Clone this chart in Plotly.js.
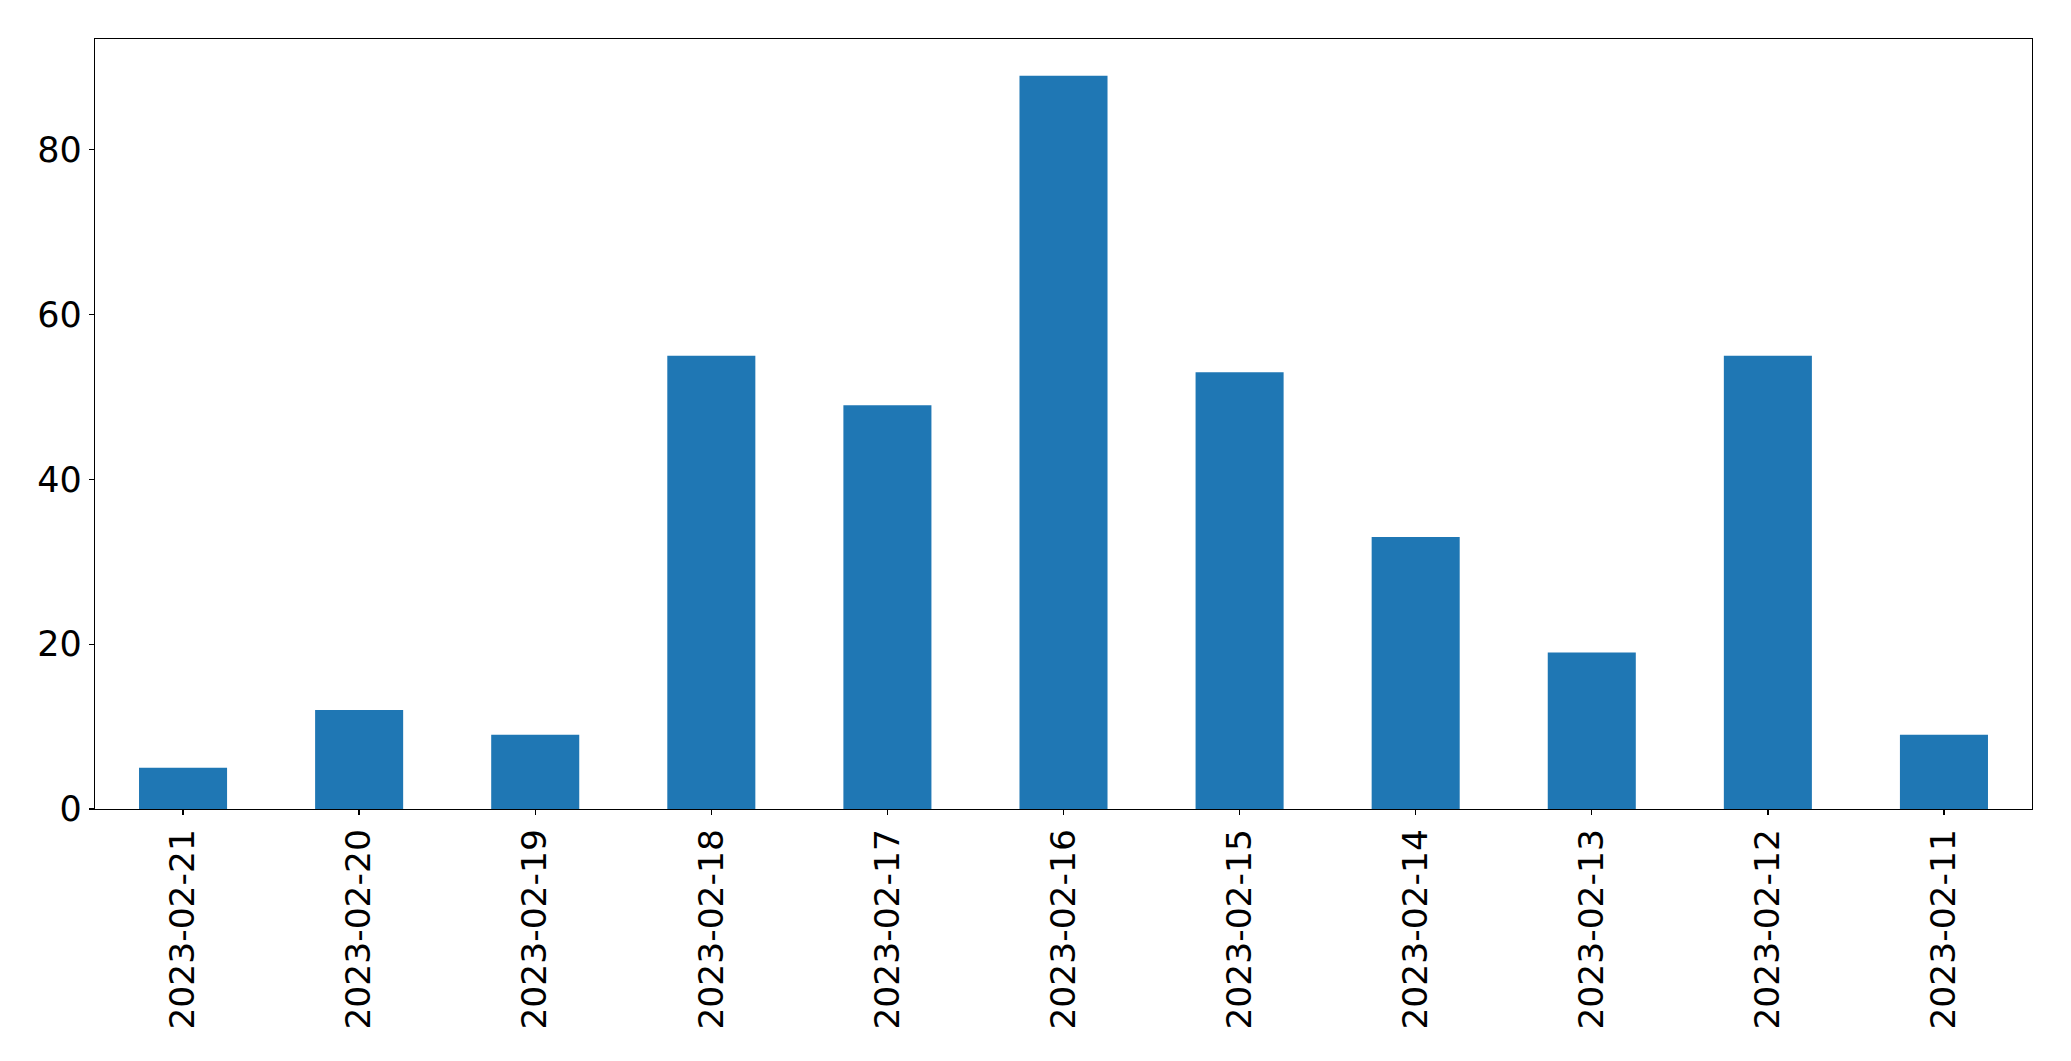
<!DOCTYPE html>
<html>
<head>
<meta charset="utf-8">
<script src="https://cdn.plot.ly/plotly-3.0.1.min.js"></script>
<style>html,body{margin:0;padding:0;background:#fff;}#chart{width:2071px;height:1061px;}</style>
</head>
<body>
<div id="chart"></div>
<script>
const categories = ["2023-02-21","2023-02-20","2023-02-19","2023-02-18","2023-02-17","2023-02-16","2023-02-15","2023-02-14","2023-02-13","2023-02-12","2023-02-11"];
const values = [5, 12, 9, 55, 49, 89, 53, 33, 19, 55, 9];
const yTicks = [0, 20, 40, 60, 80];

const trace = {
  type: 'bar',
  x: categories.map((c, i) => i),
  y: values,
  width: 0.5,
  marker: {color: '#1f77b4', line: {width: 0}},
  hoverinfo: 'x+y'
};

const layout = {
  width: 2071,
  height: 1061,
  margin: {l: 95, r: 39, t: 39, b: 252},
  paper_bgcolor: '#ffffff',
  plot_bgcolor: '#ffffff',
  showlegend: false,
  font: {family: 'DejaVu Sans', size: 34.5, color: '#000'},
  xaxis: {
    range: [-0.5, 10.5],
    tickmode: 'array',
    tickvals: categories.map((c, i) => i),
    ticktext: categories,
    tickangle: -90,
    showgrid: false,
    zeroline: false,
    showline: true,
    mirror: true,
    linecolor: '#000',
    linewidth: 1.3,
    ticks: 'outside',
    ticklen: 5,
    tickwidth: 1.3,
    tickcolor: '#000',
    tickfont: {family: 'DejaVu Sans', size: 34.5, color: '#000'}
  },
  yaxis: {
    range: [0, 93.45],
    tickmode: 'array',
    tickvals: yTicks,
    ticktext: yTicks.map(String),
    showgrid: false,
    zeroline: false,
    showline: true,
    mirror: true,
    linecolor: '#000',
    linewidth: 1.3,
    ticks: 'outside',
    ticklen: 5,
    tickwidth: 1.3,
    tickcolor: '#000',
    tickfont: {family: 'DejaVu Sans', size: 35, color: '#000'}
  }
};

Plotly.newPlot('chart', [trace], layout, {displayModeBar: false, staticPlot: true});
</script>
</body>
</html>
